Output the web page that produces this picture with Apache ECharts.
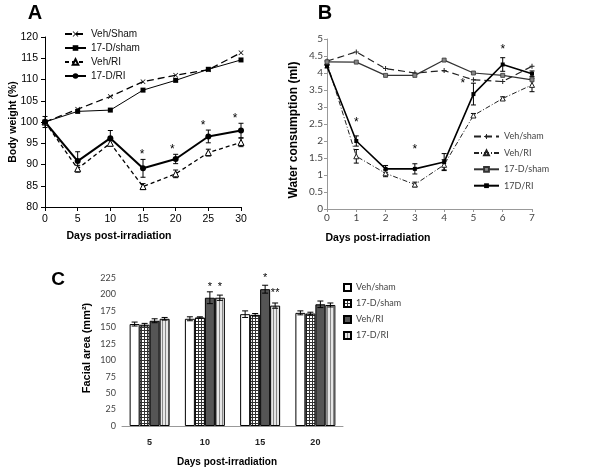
<!DOCTYPE html>
<html>
<head>
<meta charset="utf-8">
<script src="https://cdn.jsdelivr.net/npm/echarts@6/dist/echarts.min.js"></script>
<style>
  html, body { margin: 0; padding: 0; background: #fff; }
  #chart { width: 600px; height: 469px; }
</style>
</head>
<body>
<div id="chart"></div>
<script>
// ---- panel A : body weight ----
const aDays = [0, 5, 10, 15, 20, 25, 30];
const aVehSham = [100, 103, 106, 109.5, 111, 112.3, 116.3];
const aDSham = [100, 102.5, 102.8, 107.5, 109.8, 112.4, 114.6];
const aVehRI = [100, 89, 95, 84.8, 87.8, 92.8, 95.2];
const aVehRIErr = [0, 0.8, 0.6, 0.7, 0.9, 0.8, 1.0];
const aDRI = [100, 90.8, 96.2, 89.1, 91.3, 96.6, 98];
const aDRIErr = [1.3, 2.2, 1.8, 2.1, 1.1, 1.5, 1.7];
const aStarX = [14.85, 19.5, 24.2, 29.1];
const aStarY = [92.9, 94.1, 99.8, 101.4];

// ---- panel B : water consumption ----
const bDays = [0, 1, 2, 3, 4, 5, 6, 7];
const bVehSham = [4.35, 4.62, 4.13, 4.0, 4.07, 3.8, 3.75, 4.2];
const bVehRI = [4.3, 1.55, 1.05, 0.72, 1.3, 2.75, 3.25, 3.65];
const bVehRIErr = [0, 0.2, 0.1, 0.07, 0.15, 0.06, 0.05, 0.2];
const bDSham = [4.33, 4.32, 3.93, 3.93, 4.38, 4.0, 3.93, 3.8];
const bDRI = [4.2, 2.0, 1.18, 1.18, 1.38, 3.38, 4.25, 3.98];
const bDRIErr = [0.05, 0.15, 0.1, 0.15, 0.25, 0.32, 0.2, 0.08];
const bStarX = [1, 3, 4.64, 6];
const bStarY = [2.62, 1.82, 3.76, 4.76];

// ---- panel C : facial area ----
const cDays = ['5', '10', '15', '20'];
const cVehSham = [155, 163, 170, 172];
const cVehShamErr = [3, 3, 5, 3];
const cDSham = [154, 165, 169, 171];
const cDShamErr = [2, 1, 2, 2];
const cVehRI = [160, 195, 208, 185];
const cVehRIErr = [3, 9, 6, 5];
const cDRI = [163, 195, 183, 184];
const cDRIErr = [2, 4, 4, 3];
const cStarCat = [1, 1, 2, 2];
const cStarBar = [2, 3, 2, 3];
const cStarY = [216, 216, 229, 207];
const cStarText = ['*', '*', '*', '**'];

const SANS = "'Liberation Sans', Arial, sans-serif";
const SOFT = "Lato, 'Open Sans', sans-serif";
const BAR_W = 10;

const xSym = 'path://M0,1L1,0L5,4L9,0L10,1L6,5L10,9L9,10L5,6L1,10L0,9L4,5Z';
const plusSym = 'path://M4,0H6V4H10V6H6V10H4V6H0V4H4Z';

function zip(xs, ys) { return xs.map((x, i) => [x, ys[i]]); }
function errData(xs, ys, es) {
  return xs.map((x, i) => [x, ys[i] - es[i], ys[i] + es[i]]).filter((d, i) => es[i] > 0);
}

function pattern(w, h, draw) {
  const c = document.createElement('canvas');
  c.width = w; c.height = h;
  draw(c.getContext('2d'));
  return c;
}
const gridPat = pattern(3, 3, g => {
  g.fillStyle = '#fff'; g.fillRect(0, 0, 3, 3);
  g.fillStyle = '#333'; g.fillRect(0, 0, 3, 1); g.fillRect(0, 0, 1, 3);
});
const stripePat = pattern(3, 1, g => {
  g.fillStyle = '#e6e6e6'; g.fillRect(0, 0, 3, 1);
  g.fillStyle = '#888'; g.fillRect(0, 0, 1, 1);
});

function errRender(barIdx, cap) {
  return function (params, api) {
    const x = api.value(0);
    const lo = api.coord([x, api.value(1)]);
    const hi = api.coord([x, api.value(2)]);
    const cx = lo[0] + (barIdx == null ? 0 : (barIdx - 1.5) * BAR_W);
    const st = { stroke: '#000', lineWidth: 1 };
    return {
      type: 'group',
      children: [
        { type: 'line', shape: { x1: cx, y1: lo[1], x2: cx, y2: hi[1] }, style: st },
        { type: 'line', shape: { x1: cx - cap, y1: lo[1], x2: cx + cap, y2: lo[1] }, style: st },
        { type: 'line', shape: { x1: cx - cap, y1: hi[1], x2: cx + cap, y2: hi[1] }, style: st }
      ]
    };
  };
}

// asterisk glyph sits in the top of its box, so lift the box a little
function starRender(texts, bars, size) {
  return function (params, api) {
    const p = api.coord([api.value(0), api.value(1)]);
    const dx = bars ? (bars[params.dataIndex] - 1.5) * BAR_W : 0;
    return {
      type: 'text',
      x: p[0] + dx, y: p[1] - size * 0.25,
      style: {
        text: texts ? texts[params.dataIndex] : '*',
        fontSize: size, fontFamily: SANS, fill: '#000',
        align: 'center', verticalAlign: 'top',
        textAlign: 'center', textVerticalAlign: 'top'
      }
    };
  };
}

function label(text, x, y, font, rotate) {
  return {
    type: 'text', x: x, y: y, rotation: rotate ? Math.PI / 2 : 0,
    style: {
      text: text, font: font, fill: '#000',
      align: 'center', verticalAlign: 'middle',
      textAlign: 'center', textVerticalAlign: 'middle'
    }
  };
}

const chart = echarts.init(document.getElementById('chart'));

const axisA = {
  axisLine: { lineStyle: { color: '#000', width: 1 } },
  axisTick: { length: 4, lineStyle: { color: '#000' } },
  axisLabel: { fontFamily: SANS, fontSize: 10.5, color: '#000', margin: 7 },
  splitLine: { show: false }
};
const axisB = {
  axisLine: { lineStyle: { color: '#999', width: 1 } },
  axisTick: { length: 3, lineStyle: { color: '#999' } },
  axisLabel: { fontFamily: SOFT, fontSize: 10, color: '#444', margin: 4 },
  splitLine: { show: false }
};

const option = {
  animation: false,
  backgroundColor: '#fff',
  grid: [
    { left: 45, top: 37, width: 196, height: 170 },
    { left: 327, top: 39, width: 205, height: 170 },
    { left: 122, top: 278, width: 221, height: 148 }
  ],
  xAxis: [
    Object.assign({ gridIndex: 0, type: 'value', min: 0, max: 30, interval: 5 }, axisA),
    Object.assign({ gridIndex: 1, type: 'value', min: 0, max: 7, interval: 1 }, axisB),
    {
      gridIndex: 2, type: 'category', data: cDays,
      axisLine: { lineStyle: { color: '#999' } },
      axisTick: { show: false },
      axisLabel: { fontFamily: SANS, fontWeight: 'bold', fontSize: 9, color: '#222', margin: 12 }
    }
  ],
  yAxis: [
    Object.assign({ gridIndex: 0, type: 'value', min: 80, max: 120, interval: 5 }, axisA),
    Object.assign({ gridIndex: 1, type: 'value', min: 0, max: 5, interval: 0.5 }, axisB),
    Object.assign({ gridIndex: 2, type: 'value', min: 0, max: 225, interval: 25 }, axisB,
      { axisLabel: { fontFamily: SOFT, fontSize: 9, color: '#444', margin: 6 } })
  ],
  legend: [
    {
      data: ['A|Veh/Sham', 'A|17-D/sham', 'A|Veh/RI', 'A|17-D/RI'],
      orient: 'vertical', left: 64, top: 29, padding: 0,
      itemWidth: 21, itemHeight: 7, itemGap: 4,
      formatter: n => n.split('|')[1],
      textStyle: { fontFamily: SANS, fontSize: 10, color: '#111' }
    },
    {
      data: ['B|Veh/sham', 'B|Veh/RI', 'B|17-D/sham', 'B|17D/RI'],
      orient: 'vertical', left: 473, top: 132, padding: 0,
      itemWidth: 25, itemHeight: 6, itemGap: 7.4,
      formatter: n => n.split('|')[1],
      textStyle: { fontFamily: SOFT, fontSize: 9, color: '#444' }
    },
    {
      data: ['C|Veh/sham', 'C|17-D/sham', 'C|Veh/RI', 'C|17-D/RI'],
      orient: 'vertical', left: 343, top: 283, padding: 0,
      itemWidth: 7, itemHeight: 7, itemGap: 7,
      icon: 'rect',
      formatter: n => n.split('|')[1],
      textStyle: { fontFamily: SOFT, fontSize: 9, color: '#444' }
    }
  ],
  graphic: [
    label('A', 35, 13, 'bold 20px ' + SANS),
    label('B', 325, 13, 'bold 20px ' + SANS),
    label('C', 58, 280, 'bold 19px ' + SANS),
    label('Body weight (%)', 13, 122, 'bold 10.5px ' + SANS, true),
    label('Days post-irradiation', 119, 236, 'bold 10.5px ' + SANS),
    label('Water consumption (ml)', 294, 130, 'bold 12px ' + SANS, true),
    label('Days post-irradiation', 378, 238, 'bold 10.5px ' + SANS),
    label('Facial area (mm²)', 87, 348, 'bold 11px ' + SANS, true),
    label('Days post-irradiation', 227, 462, 'bold 10px ' + SANS)
  ],
  series: [
    // panel A
    {
      name: 'A|Veh/Sham', type: 'line', xAxisIndex: 0, yAxisIndex: 0, data: zip(aDays, aVehSham),
      symbol: xSym, symbolSize: 5, itemStyle: { color: '#000' },
      lineStyle: { color: '#000', width: 1.3, type: [7, 4] }
    },
    {
      name: 'A|17-D/sham', type: 'line', xAxisIndex: 0, yAxisIndex: 0, data: zip(aDays, aDSham),
      symbol: 'rect', symbolSize: 5, itemStyle: { color: '#000' },
      lineStyle: { color: '#000', width: 1 }
    },
    {
      name: 'A|Veh/RI', type: 'line', xAxisIndex: 0, yAxisIndex: 0, data: zip(aDays, aVehRI),
      symbol: 'triangle', symbolSize: 6,
      itemStyle: { color: '#fff', borderColor: '#000', borderWidth: 1 },
      lineStyle: { color: '#000', width: 1.3, type: [4, 3] }
    },
    {
      name: 'A|17-D/RI', type: 'line', xAxisIndex: 0, yAxisIndex: 0, data: zip(aDays, aDRI),
      symbol: 'circle', symbolSize: 6, itemStyle: { color: '#000' },
      lineStyle: { color: '#000', width: 2 }
    },
    {
      type: 'custom', xAxisIndex: 0, yAxisIndex: 0, z: 3, encode: { x: 0, y: [1, 2] },
      data: errData(aDays, aVehRI, aVehRIErr), renderItem: errRender(null, 2.5)
    },
    {
      type: 'custom', xAxisIndex: 0, yAxisIndex: 0, z: 3, encode: { x: 0, y: [1, 2] },
      data: errData(aDays, aDRI, aDRIErr), renderItem: errRender(null, 2.5)
    },
    {
      type: 'custom', xAxisIndex: 0, yAxisIndex: 0, z: 3, encode: { x: 0, y: 1 },
      data: zip(aStarX, aStarY), renderItem: starRender(null, null, 12)
    },
    // panel B
    {
      name: 'B|Veh/sham', type: 'line', xAxisIndex: 1, yAxisIndex: 1, data: zip(bDays, bVehSham),
      symbol: plusSym, symbolSize: 5, itemStyle: { color: '#222' },
      lineStyle: { color: '#222', width: 1.2, type: [7, 4] }
    },
    {
      name: 'B|Veh/RI', type: 'line', xAxisIndex: 1, yAxisIndex: 1, data: zip(bDays, bVehRI),
      symbol: 'triangle', symbolSize: 5,
      itemStyle: { color: '#fff', borderColor: '#222', borderWidth: 1 },
      lineStyle: { color: '#222', width: 1, type: [5, 2, 1, 2] }
    },
    {
      name: 'B|17-D/sham', type: 'line', xAxisIndex: 1, yAxisIndex: 1, data: zip(bDays, bDSham),
      symbol: 'rect', symbolSize: 4,
      itemStyle: { color: '#888', borderColor: '#333', borderWidth: 0.8 },
      lineStyle: { color: '#333', width: 1.2 }
    },
    {
      name: 'B|17D/RI', type: 'line', xAxisIndex: 1, yAxisIndex: 1, data: zip(bDays, bDRI),
      symbol: 'rect', symbolSize: 4, itemStyle: { color: '#000' },
      lineStyle: { color: '#000', width: 1.6 }
    },
    {
      type: 'custom', xAxisIndex: 1, yAxisIndex: 1, z: 3, encode: { x: 0, y: [1, 2] },
      data: errData(bDays, bVehRI, bVehRIErr), renderItem: errRender(null, 2.5)
    },
    {
      type: 'custom', xAxisIndex: 1, yAxisIndex: 1, z: 3, encode: { x: 0, y: [1, 2] },
      data: errData(bDays, bDRI, bDRIErr), renderItem: errRender(null, 2.5)
    },
    {
      type: 'custom', xAxisIndex: 1, yAxisIndex: 1, z: 3, encode: { x: 0, y: 1 },
      data: zip(bStarX, bStarY), renderItem: starRender(null, null, 12)
    },
    // panel C
    {
      name: 'C|Veh/sham', type: 'bar', xAxisIndex: 2, yAxisIndex: 2, data: cVehSham,
      barWidth: BAR_W, barGap: '0%',
      itemStyle: { color: '#fff', borderColor: '#000', borderWidth: 1 }
    },
    {
      name: 'C|17-D/sham', type: 'bar', xAxisIndex: 2, yAxisIndex: 2, data: cDSham,
      barWidth: BAR_W, barGap: '0%',
      itemStyle: { color: { image: gridPat, repeat: 'repeat' }, borderColor: '#000', borderWidth: 1 }
    },
    {
      name: 'C|Veh/RI', type: 'bar', xAxisIndex: 2, yAxisIndex: 2, data: cVehRI,
      barWidth: BAR_W, barGap: '0%',
      itemStyle: { color: '#555', borderColor: '#000', borderWidth: 1 }
    },
    {
      name: 'C|17-D/RI', type: 'bar', xAxisIndex: 2, yAxisIndex: 2, data: cDRI,
      barWidth: BAR_W, barGap: '0%',
      itemStyle: { color: { image: stripePat, repeat: 'repeat' }, borderColor: '#000', borderWidth: 1 }
    },
    {
      type: 'custom', xAxisIndex: 2, yAxisIndex: 2, z: 3, encode: { x: 0, y: [1, 2] },
      data: errData([0, 1, 2, 3], cVehSham, cVehShamErr), renderItem: errRender(0, 3)
    },
    {
      type: 'custom', xAxisIndex: 2, yAxisIndex: 2, z: 3, encode: { x: 0, y: [1, 2] },
      data: errData([0, 1, 2, 3], cDSham, cDShamErr), renderItem: errRender(1, 3)
    },
    {
      type: 'custom', xAxisIndex: 2, yAxisIndex: 2, z: 3, encode: { x: 0, y: [1, 2] },
      data: errData([0, 1, 2, 3], cVehRI, cVehRIErr), renderItem: errRender(2, 3)
    },
    {
      type: 'custom', xAxisIndex: 2, yAxisIndex: 2, z: 3, encode: { x: 0, y: [1, 2] },
      data: errData([0, 1, 2, 3], cDRI, cDRIErr), renderItem: errRender(3, 3)
    },
    {
      type: 'custom', xAxisIndex: 2, yAxisIndex: 2, z: 3, encode: { x: 0, y: 1 },
      data: zip(cStarCat, cStarY), renderItem: starRender(cStarText, cStarBar, 11)
    }
  ]
};

chart.setOption(option);
</script>
</body>
</html>
